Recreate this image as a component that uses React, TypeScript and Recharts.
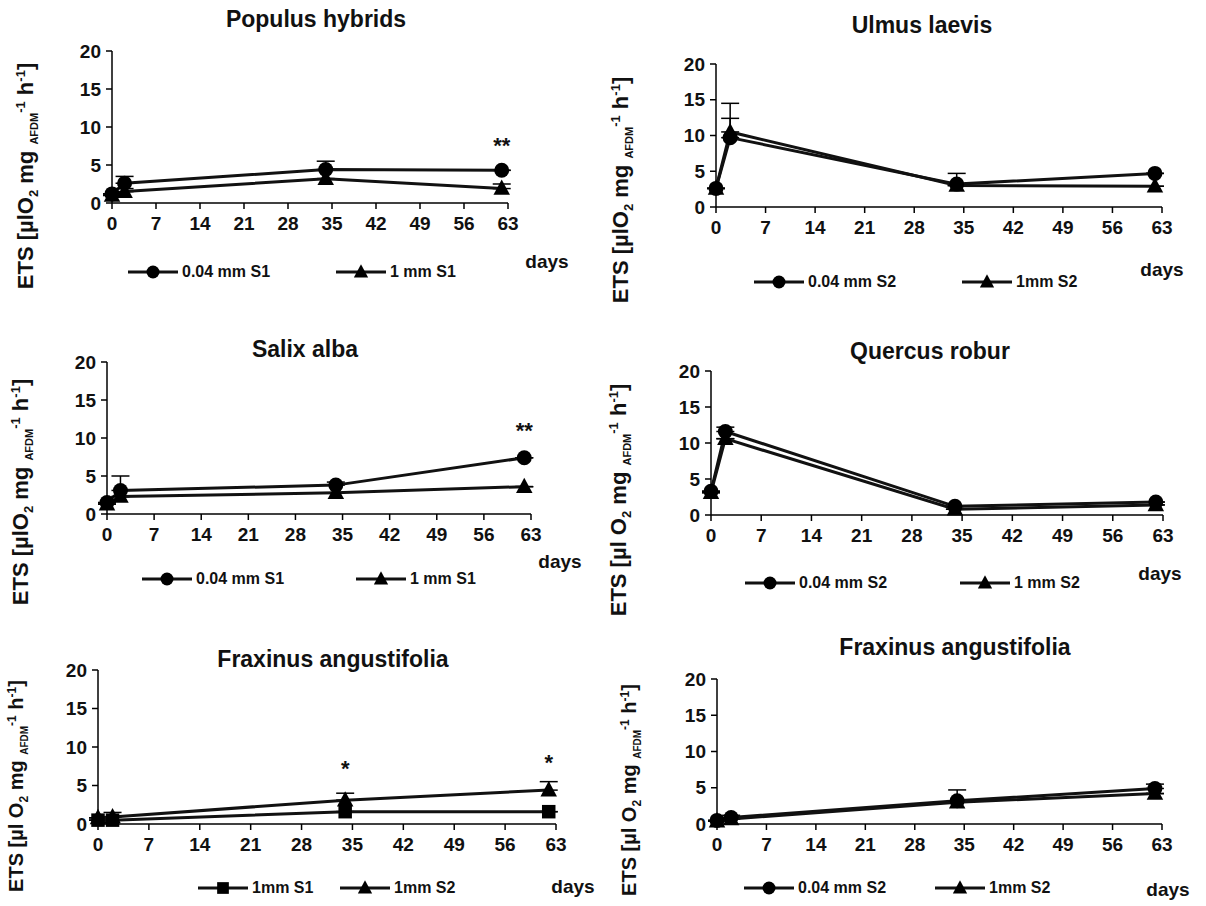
import React from "react";
import { LineChart, Line, XAxis, YAxis, ErrorBar, ReferenceDot } from "recharts";

// sampling days and axis ticks
const DAYS = [0, 2, 34, 62];
const X_TICKS = [0, 7, 14, 21, 28, 35, 42, 49, 56, 63];
const Y_TICKS = [0, 5, 10, 15, 20];

// Populus hybrids
const POP_FINE = [1.2, 2.6, 4.4, 4.3];
const POP_FINE_ERR = [0, 0.9, 1.1, 0];
const POP_COARSE = [1.0, 1.5, 3.2, 1.9];
const POP_COARSE_ERR = [0, 0.4, 0, 0.6];

// Ulmus laevis
const ULM_FINE = [2.6, 9.7, 3.2, 4.7];
const ULM_FINE_ERR = [0, 2.7, 1.5, 0];
const ULM_COARSE = [2.6, 10.5, 3.0, 2.9];
const ULM_COARSE_ERR = [0, 4.0, 0, 0];

// Salix alba
const SAL_FINE = [1.5, 3.1, 3.8, 7.4];
const SAL_FINE_ERR = [0, 1.9, 0.4, 0];
const SAL_COARSE = [1.3, 2.3, 2.8, 3.6];
const SAL_COARSE_ERR = [0, 0, 0, 0];

// Quercus robur
const QUE_FINE = [3.3, 11.6, 1.2, 1.8];
const QUE_FINE_ERR = [0, 0.6, 0, 0];
const QUE_COARSE = [3.1, 10.6, 0.8, 1.4];
const QUE_COARSE_ERR = [0, 0, 0, 0];

// Fraxinus angustifolia, 1 mm S1 vs S2
const FRA_S1 = [0.5, 0.5, 1.6, 1.6];
const FRA_S1_ERR = [0, 0, 0, 0];
const FRA_S2 = [0.8, 0.9, 3.1, 4.4];
const FRA_S2_ERR = [0, 0.6, 0.9, 1.1];

// Fraxinus angustifolia, S2
const FRB_FINE = [0.5, 0.9, 3.2, 4.9];
const FRB_FINE_ERR = [0, 0.3, 1.5, 0.6];
const FRB_COARSE = [0.4, 0.7, 3.0, 4.2];
const FRB_COARSE_ERR = [0, 0, 0, 0];

type Shape = "circle" | "triangle" | "square";
type Series = { name: string; shape: Shape; values: number[]; errors: number[] };
type Star = { day: number; y: number; text: string };

const FONT = "'Liberation Sans', Arial, sans-serif";
const YAXIS_W = 44;
const XAXIS_H = 32;

function Marker({ shape, cx, cy, size }: { shape: Shape; cx: number; cy: number; size: number }) {
  if (cx == null || cy == null) return null;
  if (shape === "circle") return <circle cx={cx} cy={cy} r={size / 2} fill="#000" />;
  if (shape === "square")
    return <rect x={cx - size * 0.45} y={cy - size * 0.45} width={size * 0.9} height={size * 0.9} fill="#000" />;
  const s = size;
  return (
    <polygon
      points={`${cx},${cy - s * 0.6} ${cx - s * 0.55},${cy + s * 0.42} ${cx + s * 0.55},${cy + s * 0.42}`}
      fill="#000"
    />
  );
}

function YLabel({ x, y, spaced, size }: { x: number; y: number; spaced: boolean; size: number }) {
  const small = Math.round(size * 0.6);
  return (
    <div
      style={{
        position: "absolute",
        left: x,
        top: y,
        transform: "translate(-50%, -50%) rotate(-90deg)",
        whiteSpace: "nowrap",
        fontWeight: 700,
        fontSize: size,
        color: "#111",
      }}
    >
      ETS [µl{spaced ? " " : ""}O<sub style={{ fontSize: small }}>2</sub> mg{" "}
      <sub style={{ fontSize: small - 2 }}>AFDM</sub>
      <sup style={{ fontSize: small }}>-1</sup> h<sup style={{ fontSize: small }}>-1</sup>]
    </div>
  );
}

interface PanelProps {
  title: string;
  series: Series[];
  stars: Star[];
  box: { x: number; y: number; w: number; h: number };
  plot: { left: number; top: number; right: number; bottom: number };
  titleAt: [number, number];
  daysAt: [number, number];
  legendY: number;
  legendX: number[];
  ylabelAt: [number, number];
  ylabelSize: number;
  spaced: boolean;
}

function Panel(p: PanelProps) {
  const data = DAYS.map((day, i) => {
    const row: Record<string, any> = { day };
    p.series.forEach((s, k) => {
      row[`s${k}`] = s.values[i];
      row[`e${k}`] = [0, s.errors[i]];
    });
    return row;
  });
  const margin = {
    left: p.plot.left - p.box.x - YAXIS_W,
    top: p.plot.top - p.box.y,
    right: p.box.x + p.box.w - p.plot.right,
    bottom: p.box.y + p.box.h - p.plot.bottom - XAXIS_H,
  };
  const tick = { fontSize: 19, fontWeight: 700, fill: "#111", fontFamily: FONT };
  return (
    <>
      <div
        style={{
          position: "absolute",
          left: p.titleAt[0] - 200,
          top: p.titleAt[1] - 14,
          width: 400,
          textAlign: "center",
          fontSize: 23,
          fontWeight: 700,
          color: "#111",
        }}
      >
        {p.title}
      </div>
      <div style={{ position: "absolute", left: p.box.x, top: p.box.y }}>
        <LineChart width={p.box.w} height={p.box.h} data={data} margin={margin}>
          <XAxis
            dataKey="day"
            type="number"
            domain={[0, 63]}
            ticks={X_TICKS}
            interval={0}
            height={XAXIS_H}
            tick={tick}
            tickSize={6}
            tickMargin={8}
            axisLine={{ stroke: "#000", strokeWidth: 1.5 }}
            tickLine={{ stroke: "#000", strokeWidth: 1.5 }}
          />
          <YAxis
            type="number"
            domain={[0, 20]}
            ticks={Y_TICKS}
            interval={0}
            width={YAXIS_W}
            tick={tick}
            tickSize={6}
            tickMargin={5}
            axisLine={{ stroke: "#000", strokeWidth: 1.5 }}
            tickLine={{ stroke: "#000", strokeWidth: 1.5 }}
          />
          {p.series.map((s, k) => (
            <Line
              key={s.name}
              dataKey={`s${k}`}
              type="linear"
              stroke="#111"
              strokeWidth={3}
              isAnimationActive={false}
              dot={(d: any) => (
                <Marker key={`${s.name}-${d.index}`} shape={s.shape} cx={d.cx} cy={d.cy} size={15} />
              )}
              activeDot={false}
            >
              <ErrorBar dataKey={`e${k}`} width={9} stroke="#000" strokeWidth={1.5} direction="y" />
            </Line>
          ))}
          {p.stars.map((st, i) => (
            <ReferenceDot
              key={i}
              x={st.day}
              y={st.y}
              r={0}
              fill="none"
              stroke="none"
              label={{ value: st.text, position: "center", fontSize: 22, fontWeight: 700, fill: "#111" }}
            />
          ))}
        </LineChart>
      </div>
      <div
        style={{
          position: "absolute",
          left: p.daysAt[0] - 30,
          top: p.daysAt[1] - 12,
          width: 60,
          textAlign: "center",
          fontSize: 19,
          fontWeight: 700,
          color: "#111",
        }}
      >
        days
      </div>
      {p.series.map((s, k) => (
        <div
          key={s.name}
          style={{
            position: "absolute",
            left: p.legendX[k],
            top: p.legendY - 11,
            display: "flex",
            alignItems: "center",
            whiteSpace: "nowrap",
            fontSize: 16,
            fontWeight: 700,
            color: "#111",
          }}
        >
          <svg width={50} height={22}>
            <line x1={0} y1={11} x2={50} y2={11} stroke="#111" strokeWidth={3} />
            <Marker shape={s.shape} cx={25} cy={11} size={13} />
          </svg>
          <span style={{ marginLeft: 4 }}>{s.name}</span>
        </div>
      ))}
      <YLabel x={p.ylabelAt[0]} y={p.ylabelAt[1]} spaced={p.spaced} size={p.ylabelSize} />
    </>
  );
}

export default function App() {
  return (
    <div
      style={{
        position: "absolute",
        left: 0,
        top: 0,
        width: 1206,
        height: 906,
        background: "#fff",
        fontFamily: FONT,
        overflow: "hidden",
      }}
    >
      <Panel
        title="Populus hybrids"
        series={[
          { name: "0.04 mm  S1", shape: "circle", values: POP_FINE, errors: POP_FINE_ERR },
          { name: "1 mm S1", shape: "triangle", values: POP_COARSE, errors: POP_COARSE_ERR },
        ]}
        stars={[{ day: 62, y: 7.6, text: "**" }]}
        box={{ x: 0, y: 0, w: 600, h: 300 }}
        plot={{ left: 112, top: 51, right: 508, bottom: 203 }}
        titleAt={[316, 20]}
        daysAt={[547, 263]}
        legendY={272}
        legendX={[128, 336]}
        ylabelAt={[27, 176]}
        ylabelSize={22}
        spaced={false}
      />
      <Panel
        title="Ulmus laevis"
        series={[
          { name: "0.04 mm  S2", shape: "circle", values: ULM_FINE, errors: ULM_FINE_ERR },
          { name: "1mm  S2", shape: "triangle", values: ULM_COARSE, errors: ULM_COARSE_ERR },
        ]}
        stars={[]}
        box={{ x: 600, y: 0, w: 606, h: 300 }}
        plot={{ left: 716, top: 64, right: 1162, bottom: 207 }}
        titleAt={[922, 26]}
        daysAt={[1162, 271]}
        legendY={282}
        legendX={[754, 962]}
        ylabelAt={[622, 190]}
        ylabelSize={22}
        spaced={false}
      />
      <Panel
        title="Salix alba"
        series={[
          { name: "0.04 mm S1", shape: "circle", values: SAL_FINE, errors: SAL_FINE_ERR },
          { name: "1 mm S1", shape: "triangle", values: SAL_COARSE, errors: SAL_COARSE_ERR },
        ]}
        stars={[{ day: 62, y: 11, text: "**" }]}
        box={{ x: 0, y: 300, w: 600, h: 300 }}
        plot={{ left: 107, top: 362, right: 531, bottom: 514 }}
        titleAt={[305, 350]}
        daysAt={[560, 563]}
        legendY={579}
        legendX={[142, 356]}
        ylabelAt={[22, 492]}
        ylabelSize={22}
        spaced={false}
      />
      <Panel
        title="Quercus robur"
        series={[
          { name: "0.04 mm S2", shape: "circle", values: QUE_FINE, errors: QUE_FINE_ERR },
          { name: "1 mm S2", shape: "triangle", values: QUE_COARSE, errors: QUE_COARSE_ERR },
        ]}
        stars={[]}
        box={{ x: 600, y: 300, w: 606, h: 310 }}
        plot={{ left: 711, top: 371, right: 1163, bottom: 515 }}
        titleAt={[930, 352]}
        daysAt={[1160, 575]}
        legendY={583}
        legendX={[745, 960]}
        ylabelAt={[620, 500]}
        ylabelSize={22}
        spaced={true}
      />
      <Panel
        title="Fraxinus angustifolia"
        series={[
          { name: "1mm  S1", shape: "square", values: FRA_S1, errors: FRA_S1_ERR },
          { name: "1mm  S2", shape: "triangle", values: FRA_S2, errors: FRA_S2_ERR },
        ]}
        stars={[
          { day: 34, y: 7.2, text: "*" },
          { day: 62, y: 8.0, text: "*" },
        ]}
        box={{ x: 0, y: 610, w: 600, h: 296 }}
        plot={{ left: 98, top: 670, right: 556, bottom: 824 }}
        titleAt={[333, 660]}
        daysAt={[573, 888]}
        legendY={888}
        legendX={[198, 340]}
        ylabelAt={[18, 786]}
        ylabelSize={20}
        spaced={true}
      />
      <Panel
        title="Fraxinus angustifolia"
        series={[
          { name: "0.04 mm S2", shape: "circle", values: FRB_FINE, errors: FRB_FINE_ERR },
          { name: "1mm S2", shape: "triangle", values: FRB_COARSE, errors: FRB_COARSE_ERR },
        ]}
        stars={[]}
        box={{ x: 600, y: 610, w: 606, h: 296 }}
        plot={{ left: 717, top: 679, right: 1162, bottom: 824 }}
        titleAt={[955, 648]}
        daysAt={[1168, 891]}
        legendY={888}
        legendX={[744, 935]}
        ylabelAt={[631, 790]}
        ylabelSize={20}
        spaced={true}
      />
    </div>
  );
}
